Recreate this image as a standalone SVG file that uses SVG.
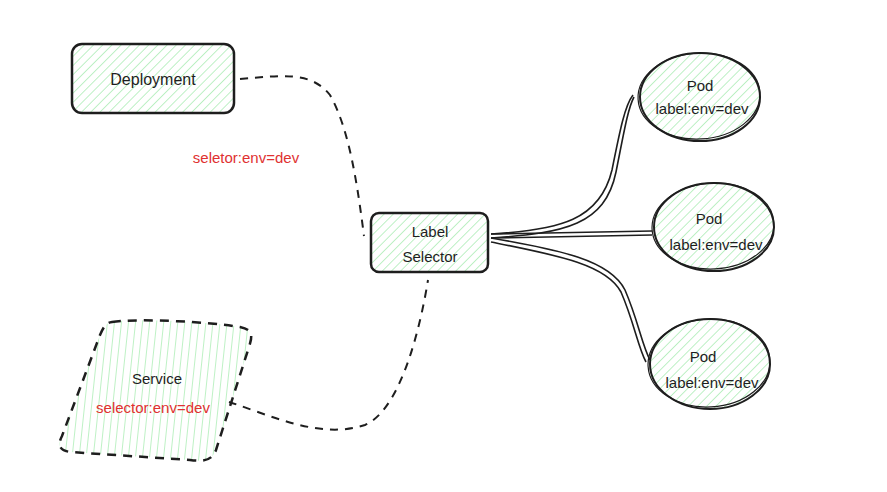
<svg xmlns="http://www.w3.org/2000/svg" width="887" height="492" viewBox="0 0 887 492">
<defs>
<pattern id="hatch" patternUnits="userSpaceOnUse" width="6.5" height="6.5" patternTransform="rotate(45)">
<line x1="0" y1="0" x2="0" y2="6.5" stroke="#a8ecb2" stroke-width="1.5"/>
</pattern>
<pattern id="vhatch" patternUnits="userSpaceOnUse" width="7" height="7" patternTransform="rotate(6)">
<line x1="0" y1="0" x2="0" y2="7" stroke="#a8ecb2" stroke-width="1.5"/>
</pattern>
<style>
.txt{font-family:"Liberation Sans",sans-serif;font-size:15px;fill:#1e1e1e;text-anchor:middle}
.red{fill:#e03131}
.box{stroke:#1e1e1e;stroke-width:2.5;fill:url(#hatch)}
.pod{stroke:#1e1e1e;stroke-width:2;fill:url(#hatch)}
.pod2{stroke:#1e1e1e;stroke-width:1.2;fill:none}
.dash{fill:none;stroke:#1e1e1e;stroke-width:2;stroke-dasharray:8 7}
.solid{fill:none;stroke:#1e1e1e;stroke-width:1.6}
</style>
</defs>
<rect width="887" height="492" fill="#ffffff"/>
<g id="connectors">
<path class="dash" d="M240,79 C280,76 310,70 330,95 C350,130 358,190 364,236"/>
<path class="dash" d="M229,402 C270,415 320,440 365,425 C400,410 420,330 428,280"/>
<path class="solid" d="M491,234 C560,230 600,220 612,170 C620,130 625,105 633,95"/>
<path class="solid" d="M491,238 C565,233 605,225 616,172 C624,132 628,108 634,97"/>
<path class="solid" d="M491,234 L652,231"/>
<path class="solid" d="M491,238 L652,235"/>
<path class="solid" d="M491,238 C560,250 610,260 625,290 C638,320 642,345 650,360"/>
<path class="solid" d="M491,242 C556,255 606,264 621,292 C634,322 638,347 646,362"/>
</g>
<g id="deployment">
<rect class="box" x="72" y="44" width="162" height="69" rx="10"/>
<text class="txt" x="153" y="85" style="font-size:16px">Deployment</text>
</g>
<g id="label-selector">
<rect class="box" x="371" y="213" width="117" height="59" rx="8"/>
<text class="txt" x="430" y="237">Label</text>
<text class="txt" x="430" y="262">Selector</text>
</g>
<g id="service">
<path d="M112,322 C140,318 210,322 240,327 C255,330 252,338 248,350 L216,450 C212,460 205,462 190,460 L70,452 C58,450 58,444 62,436 L100,335 C104,326 106,323 112,322 Z" fill="url(#vhatch)" stroke="#1e1e1e" stroke-width="2.5" stroke-dasharray="9 7"/>
<text class="txt" x="157" y="384">Service</text>
<text class="txt red" x="153" y="413">selector:env=dev</text>
</g>
<g id="pod1">
<ellipse class="pod" cx="700" cy="97" rx="60" ry="44"/>
<ellipse class="pod2" cx="699" cy="96" rx="61" ry="43" transform="rotate(-3 699 96)"/>
<text class="txt" x="700" y="91">Pod</text>
<text class="txt" x="702" y="114">label:env=dev</text>
</g>
<g id="pod2">
<ellipse class="pod" cx="714" cy="227" rx="60" ry="44"/>
<ellipse class="pod2" cx="713" cy="226" rx="61" ry="43" transform="rotate(-3 713 226)"/>
<text class="txt" x="709" y="224">Pod</text>
<text class="txt" x="716" y="250">label:env=dev</text>
</g>
<g id="pod3">
<ellipse class="pod" cx="710" cy="364" rx="60" ry="45"/>
<ellipse class="pod2" cx="709" cy="363" rx="61" ry="44" transform="rotate(-3 709 363)"/>
<text class="txt" x="703" y="362">Pod</text>
<text class="txt" x="712" y="388">label:env=dev</text>
</g>
<g id="edge-label">
<text class="txt red" x="246" y="163">seletor:env=dev</text>
</g>
</svg>
